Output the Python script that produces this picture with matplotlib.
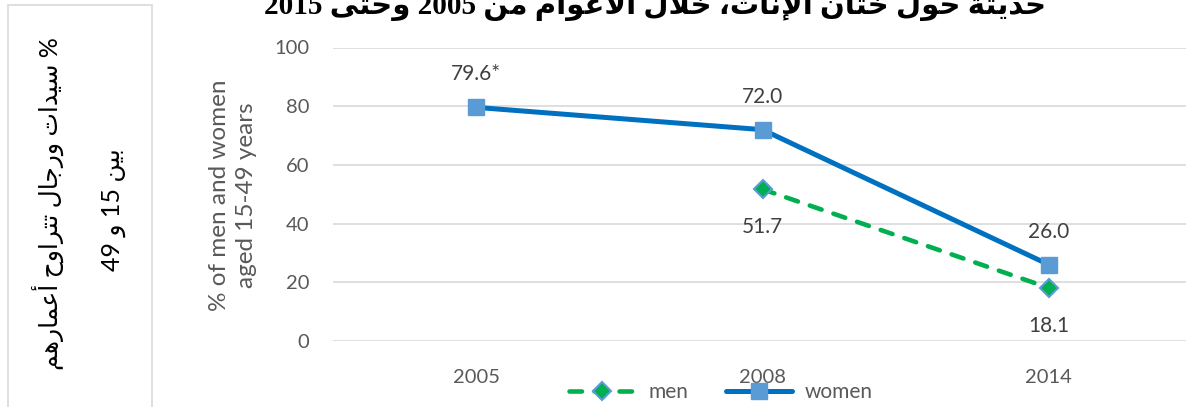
import re
import numpy as np
import matplotlib
matplotlib.use('Agg')
from matplotlib import pyplot as plt
from matplotlib.patches import Rectangle

#data
years=['2005','2008','2014']
women=[79.6,72.0,26.0]
men=[np.nan,51.7,18.1]
women_labels=['79.6*','72.0','26.0']
men_labels=['','51.7','18.1']
yticks=[0,20,40,60,80,100]
title_ar='حديثة حول ختان الإناث، خلال الأعوام من 2005 وحتى 2015'
box_ar=['% سيدات ورجال تتراوح أعمارهم','بين 15 و 49']
ylabel_en='% of men and women\naged 15-49 years'

#arabic shaping by hand (matplotlib has no complex text layout)
#(isolated, final, initial, medial)
FORMS={
'ا':(0xFE8D,0xFE8E,None,None),'أ':(0xFE83,0xFE84,None,None),'إ':(0xFE87,0xFE88,None,None),
'ب':(0xFE8F,0xFE90,0xFE91,0xFE92),'ة':(0xFE93,0xFE94,None,None),'ت':(0xFE95,0xFE96,0xFE97,0xFE98),
'ث':(0xFE99,0xFE9A,0xFE9B,0xFE9C),'ج':(0xFE9D,0xFE9E,0xFE9F,0xFEA0),'ح':(0xFEA1,0xFEA2,0xFEA3,0xFEA4),
'خ':(0xFEA5,0xFEA6,0xFEA7,0xFEA8),'د':(0xFEA9,0xFEAA,None,None),'ر':(0xFEAD,0xFEAE,None,None),
'س':(0xFEB1,0xFEB2,0xFEB3,0xFEB4),'ع':(0xFEC9,0xFECA,0xFECB,0xFECC),'ل':(0xFEDD,0xFEDE,0xFEDF,0xFEE0),
'م':(0xFEE1,0xFEE2,0xFEE3,0xFEE4),'ن':(0xFEE5,0xFEE6,0xFEE7,0xFEE8),'ه':(0xFEE9,0xFEEA,0xFEEB,0xFEEC),
'و':(0xFEED,0xFEEE,None,None),'ى':(0xFEEF,0xFEF0,None,None),'ي':(0xFEF1,0xFEF2,0xFEF3,0xFEF4),
}
LAM_ALEF={'ا':(0xFEFB,0xFEFC),'أ':(0xFEF7,0xFEF8),'إ':(0xFEF9,0xFEFA)}

def shape(s):
	out=[]
	i=0
	while i<len(s):
		c=s[i]
		if c not in FORMS:
			out.append(c); i+=1; continue
		prev=s[i-1] if i>0 else None
		jp=prev in FORMS and FORMS[prev][2] is not None
		if c=='ل' and i+1<len(s) and s[i+1] in LAM_ALEF:
			out.append(chr(LAM_ALEF[s[i+1]][1 if jp else 0])); i+=2; continue
		nxt=s[i+1] if i+1<len(s) else None
		jn=FORMS[c][2] is not None and nxt in FORMS
		k=3 if (jp and jn) else 1 if jp else 2 if jn else 0
		out.append(chr(FORMS[c][k])); i+=1
	v=''.join(out)[::-1]
	return re.sub(r'[0-9A-Za-z.]+',lambda m:m.group(0)[::-1],v)

plt.rcParams['font.family']=['Lato','DejaVu Sans']
plt.rcParams['lines.scale_dashes']=False
W,H=1186,407
fig=plt.figure(figsize=(W/100,H/100),dpi=100)
ax=fig.add_axes([333/W,66/H,(1192-333)/W,(341-47.5)/H])

x=np.arange(len(years))
ax.plot(x,men,color='#00B050',lw=3.3,dashes=(9,9),dash_capstyle='round',
	marker='D',ms=9,mfc='#00B050',mec='#5B9BD5',mew=1.5,label='men',zorder=3)
ax.plot(x,women,color='#0070C0',lw=3.6,solid_capstyle='round',
	marker='s',ms=11,mfc='#5B9BD5',mec='#5B9BD5',label='women',zorder=4)

for i in range(len(years)):
	ax.annotate(women_labels[i],(x[i],women[i]),xytext=(0,23.8),textcoords='offset points',
		ha='center',va='center',fontsize=15,color='#404040')
	if men_labels[i]:
		ax.annotate(men_labels[i],(x[i],men[i]),xytext=(0,-27.4),textcoords='offset points',
			ha='center',va='center',fontsize=15,color='#404040')

ax.set_xlim(-0.5,2.5)
ax.set_ylim(0,100)
ax.set_yticks(yticks)
ax.set_xticks(x)
ax.set_xticklabels(years)
ax.tick_params(axis='both',length=0,labelsize=14.5,labelcolor='#595959')
ax.tick_params(axis='y',pad=17)
ax.tick_params(axis='x',pad=20)
ax.grid(axis='y',color='#d9d9d9',lw=1.2)
ax.set_axisbelow(True)
for sp in ax.spines.values():
	sp.set_visible(False)

fig.text(233/W,1-195/H,ylabel_en,rotation=90,ha='center',va='center',
	fontsize=17.5,color='#595959',linespacing=1.3)

fig.legend(loc='center',bbox_to_anchor=(721/W,15/H),ncol=2,frameon=False,
	fontsize=15,handlelength=3.2,handletextpad=0.6,columnspacing=1.8,labelcolor='#595959')

#title (cut at the top like the source)
fig.text(655/W,1-14/H,shape(title_ar),ha='center',va='baseline',fontsize=21,
	fontweight='bold',family=['Liberation Serif','DejaVu Sans'],color='black')

#left box with arabic label
fig.add_artist(Rectangle((8/W,-0.05),(152-8)/W,1.05-5/H,transform=fig.transFigure,
	fill=False,ec='#d9d9d9',lw=1.2))
fig.text(48/W,1-204/H,shape(box_ar[0]),rotation=90,ha='center',va='center',fontsize=18,color='black')
fig.text(114/W,1-210/H,shape(box_ar[1]),rotation=90,ha='center',va='center',fontsize=18,color='black')

plt.savefig('out.png',dpi=100)
